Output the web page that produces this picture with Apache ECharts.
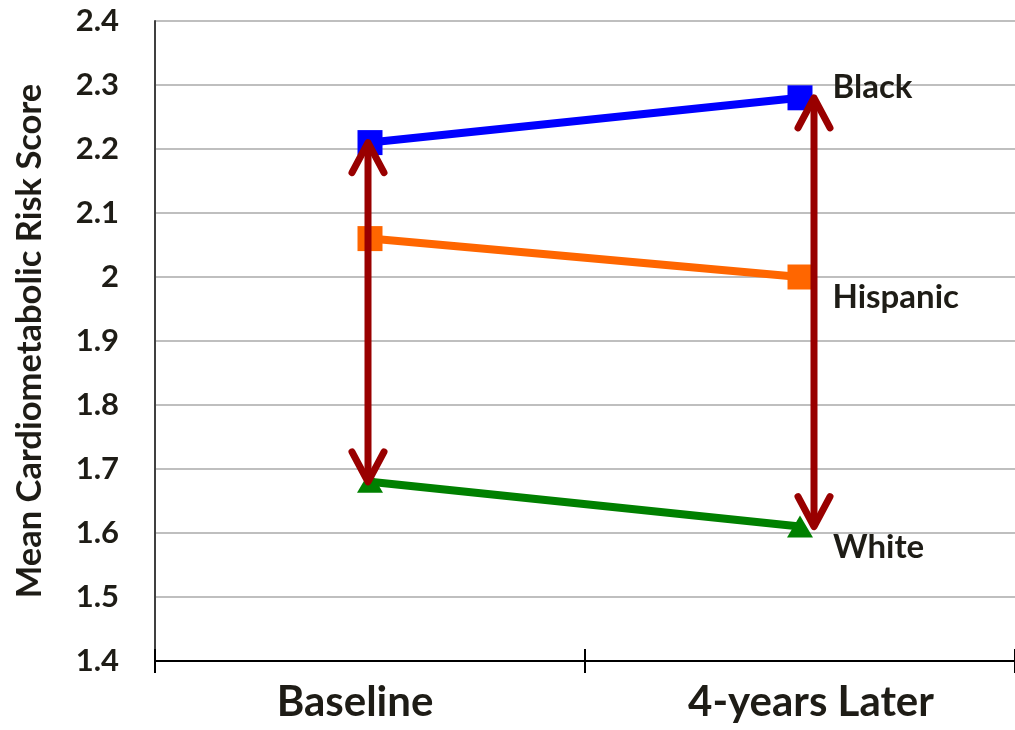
<!DOCTYPE html>
<html>
<head>
<meta charset="utf-8">
<title>Mean Cardiometabolic Risk Score</title>
<script src="https://cdn.jsdelivr.net/npm/echarts@6/dist/echarts.min.js"></script>
<style>
  html, body { margin: 0; padding: 0; background: #ffffff; }
  #chart { width: 1015px; height: 730px; }
</style>
</head>
<body>
<div id="chart"></div>
<script>
// Time points and mean risk score per group
const categories = ['Baseline', '4-years Later'];
const blackScores = [2.21, 2.28];
const hispanicScores = [2.06, 2.00];
const whiteScores = [1.68, 1.61];
const groupNames = ['Black', 'Hispanic', 'White'];

// Value axis range
const yMin = 1.4;
const yMax = 2.4;
const yStep = 0.1;

// Gap arrows span from the Black mean down to the White mean at each time point
const gapArrows = categories.map((c, i) => [i, blackScores[i], whiteScores[i]]);

const textColor = '#1e1c16';
const fontFamily = 'Lato, "Open Sans", sans-serif';
const heavy = 'bold';
const arrowColor = '#990000';
// horizontal pixel nudge for each arrow
const arrowShift = [-2, 14];

const chart = echarts.init(document.getElementById('chart'));

function endLabel(dy) {
  return {
    show: true,
    position: 'right',
    distance: 20,
    offset: [0, dy],
    formatter: '{a}',
    color: textColor,
    fontFamily: fontFamily,
    fontWeight: heavy,
    fontSize: 33
  };
}

function lineSeries(name, values, color, symbol, labelDy) {
  return {
    name: name,
    type: 'line',
    data: values.map((v, i) => i === values.length - 1
      ? { value: v, label: endLabel(labelDy) }
      : v),
    symbol: symbol,
    symbolSize: symbol === 'triangle' ? [26, 22] : 25,
    lineStyle: { color: color, width: 8 },
    itemStyle: { color: color },
    emphasis: { disabled: true },
    z: 3
  };
}

function renderArrow(params, api) {
  const top = api.coord([api.value(0), api.value(1)]);
  const bot = api.coord([api.value(0), api.value(2)]);
  const x = top[0] + arrowShift[params.dataIndex];
  const y1 = top[1];
  const y2 = bot[1];
  const head = 30;
  const half = 16;
  const style = {
    stroke: arrowColor,
    lineWidth: 7,
    lineCap: 'round',
    lineJoin: 'round',
    fill: null
  };
  return {
    type: 'group',
    children: [
      { type: 'line', shape: { x1: x, y1: y1 + 4, x2: x, y2: y2 - 4 }, style: style },
      { type: 'polyline', shape: { points: [[x - half, y1 + head], [x, y1], [x + half, y1 + head]] }, style: style },
      { type: 'polyline', shape: { points: [[x - half, y2 - head], [x, y2], [x + half, y2 - head]] }, style: style }
    ]
  };
}

const option = {
  animation: false,
  backgroundColor: '#ffffff',
  grid: { left: 155, right: 0, top: 21, bottom: 69, containLabel: false },
  xAxis: [
    {
      type: 'category',
      data: categories,
      boundaryGap: true,
      axisLine: { show: true, lineStyle: { color: '#000000', width: 2 } },
      axisTick: { show: true, length: 12, lineStyle: { color: '#000000', width: 2 } },
      axisLabel: {
        margin: 20,
        formatter: (v, i) => i === 0 ? '{a|' + v + '}' : '{b|' + v + '}',
        rich: {
          a: { color: textColor, fontFamily: fontFamily, fontWeight: heavy, fontSize: 42, padding: [0, 30, 0, 0] },
          b: { color: textColor, fontFamily: fontFamily, fontWeight: heavy, fontSize: 42, padding: [0, 0, 0, 22] }
        }
      },
      splitLine: { show: false }
    },
    {
      // inner half of the crossing tick marks
      type: 'category',
      data: categories,
      position: 'bottom',
      boundaryGap: true,
      axisLine: { show: false },
      axisTick: { show: true, inside: true, length: 12, lineStyle: { color: '#000000', width: 2 } },
      axisLabel: { show: false },
      splitLine: { show: false }
    }
  ],
  yAxis: {
    type: 'value',
    min: yMin,
    max: yMax,
    interval: yStep,
    name: 'Mean Cardiometabolic Risk Score',
    nameLocation: 'middle',
    nameGap: 108,
    nameTextStyle: { color: textColor, fontFamily: fontFamily, fontWeight: heavy, fontSize: 34.5 },
    axisLine: { show: true, lineStyle: { color: '#404040', width: 2 } },
    axisTick: { show: false },
    axisLabel: {
      margin: 36,
      color: textColor,
      fontFamily: fontFamily,
      fontWeight: heavy,
      fontSize: 31,
      formatter: v => String(parseFloat(v.toFixed(1)))
    },
    splitLine: { show: true, lineStyle: { color: '#bfbfbf', width: 2 } }
  },
  series: [
    lineSeries(groupNames[0], blackScores, '#0000ff', 'rect', -10),
    lineSeries(groupNames[1], hispanicScores, '#ff6600', 'rect', 20),
    lineSeries(groupNames[2], whiteScores, '#008000', 'triangle', 21),
    {
      type: 'custom',
      name: 'gap',
      data: gapArrows,
      renderItem: renderArrow,
      silent: true,
      z: 5
    }
  ]
};

chart.setOption(option);
</script>
</body>
</html>
